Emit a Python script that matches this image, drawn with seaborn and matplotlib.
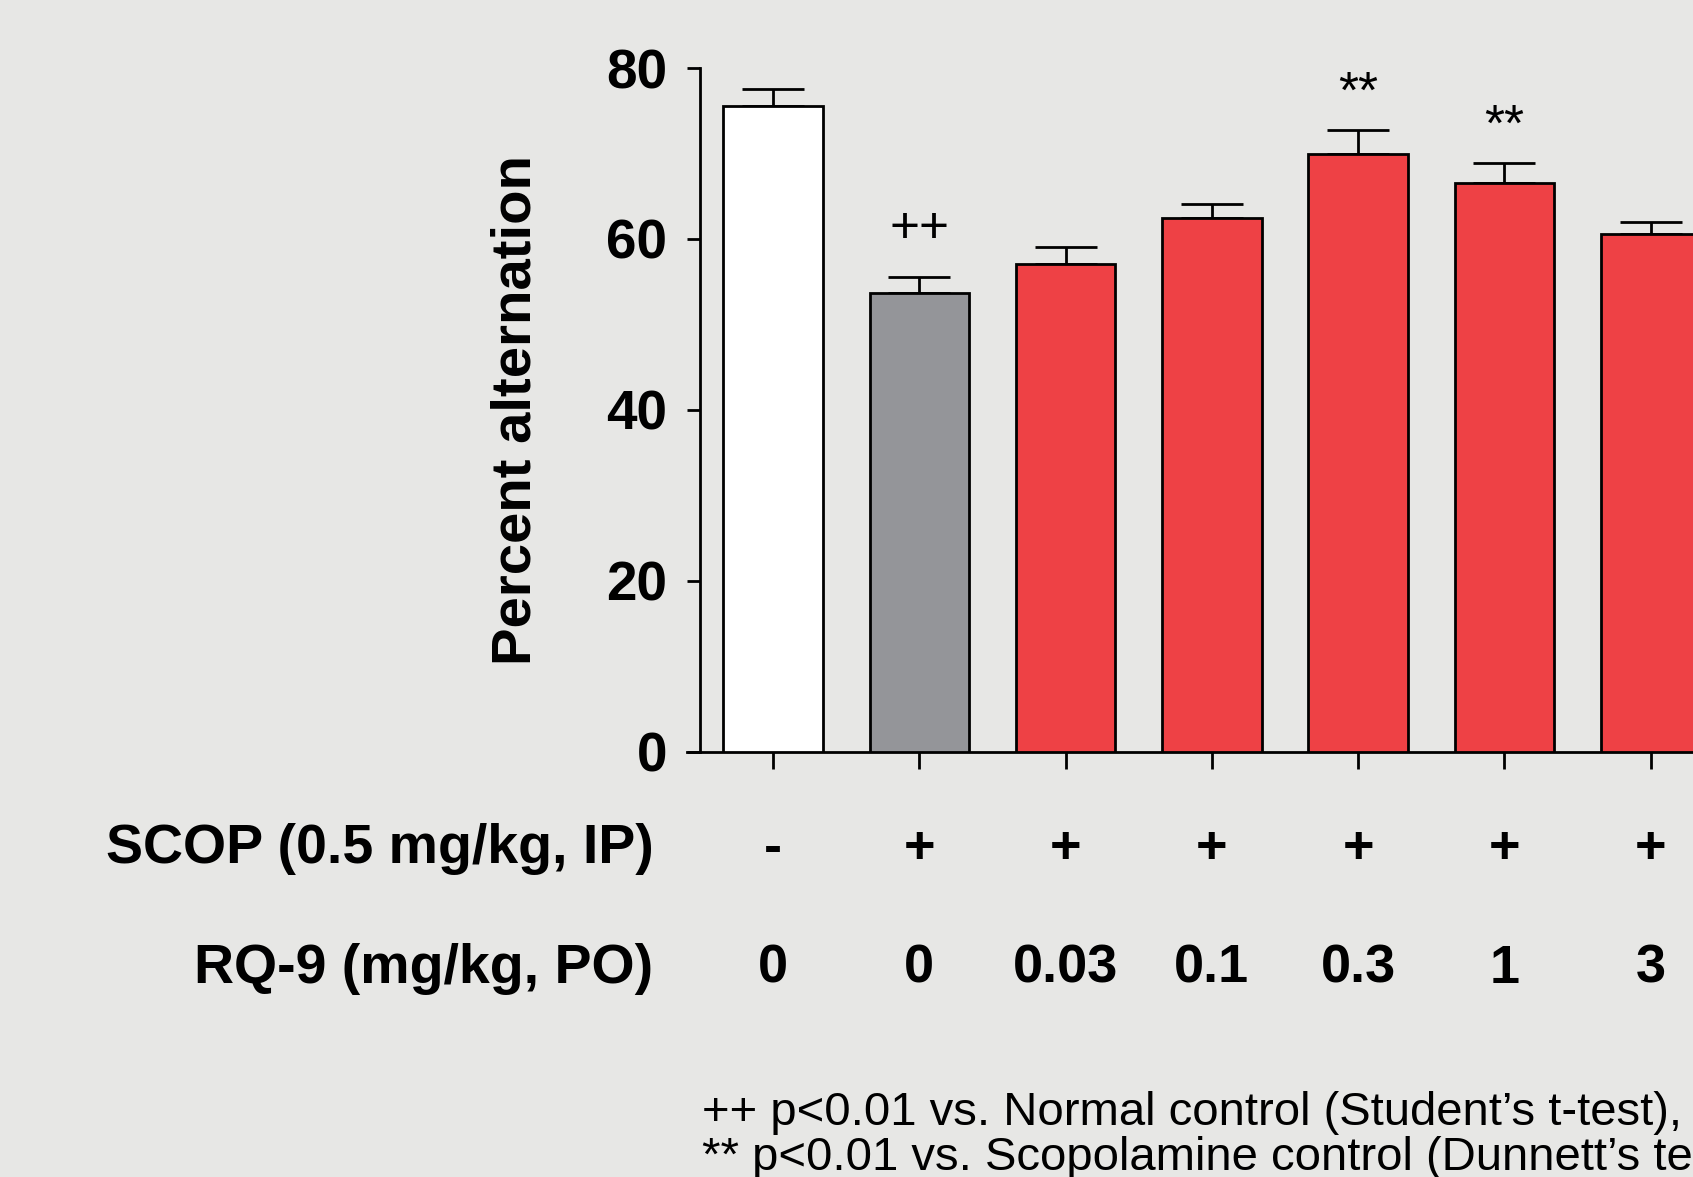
import pandas as pd
import matplotlib.pyplot as plt
import matplotlib.transforms as mtransforms
import seaborn as sns

# values
groups = ["Normal", "SCOP", "RQ-9 0.03", "RQ-9 0.1", "RQ-9 0.3", "RQ-9 1", "RQ-9 3"]
means = [75.6, 53.7, 57.1, 62.4, 69.9, 66.6, 60.6]
sems = [1.9, 1.8, 1.9, 1.7, 2.9, 2.3, 1.4]
scop_row = ["-", "+", "+", "+", "+", "+", "+"]
dose_row = ["0", "0", "0.03", "0.1", "0.3", "1", "3"]
marks = ["", "++", "", "", "**", "**", ""]
bar_colors = ["#FFFFFF", "#949599", "#EE4145", "#EE4145", "#EE4145", "#EE4145", "#EE4145"]
y_ticks = [0, 20, 40, 60, 80]
footnotes = ["++ p<0.01 vs. Normal control (Student\u2019s t-test),",
             "** p<0.01 vs. Scopolamine control (Dunnett\u2019s test)"]

bg = "#E7E7E5"
sns.set_style("white")
plt.rcParams['font.family'] = ['Liberation Sans', 'DejaVu Sans']
plt.rcParams.update({"text.color": "black", "axes.labelcolor": "black",
                     "xtick.color": "black", "ytick.color": "black"})

df = pd.DataFrame({"group": groups, "mean": means, "sem": sems})

fig = plt.figure(figsize=(16.93, 11.77), dpi=100, facecolor=bg)
ax = fig.add_axes([0.4135, 0.3615, 0.691, 0.5807])
ax.set_facecolor(bg)

sns.barplot(data=df, x="group", y="mean", hue="group", order=groups,
            palette=dict(zip(groups, bar_colors)), legend=False, saturation=1,
            width=0.68, edgecolor="black", linewidth=2, errorbar=None,
            ax=ax, zorder=3)

ax.errorbar(range(len(groups)), means, yerr=[[0] * len(sems), sems], fmt="none",
            ecolor="black", elinewidth=2, capsize=22, capthick=2, zorder=2)

ax.set_xlim(-0.5, 7.5)
ax.set_ylim(0, 80)
ax.set_yticks(y_ticks)
ax.set_yticklabels([str(t) for t in y_ticks], fontsize=39.5, fontweight="bold")
ax.set_xticks(range(len(groups)))
ax.set_xticklabels([])
ax.set_xlabel("")
ax.set_ylabel("Percent alternation", fontsize=40.5, fontweight="bold", labelpad=46)
ax.tick_params(axis="y", direction="out", length=9.5, width=2, pad=14, left=True)
ax.tick_params(axis="x", direction="out", length=12, width=2, bottom=True)
for s in ["top", "right"]:
    ax.spines[s].set_visible(False)
for s in ["left", "bottom"]:
    ax.spines[s].set_linewidth(2)
    ax.spines[s].set_color("black")
ax.spines["bottom"].set_bounds(-0.5 - 0.088, 7.5)

# significance marks above the error caps
for i, m in enumerate(marks):
    if m:
        off = 2.6 if m == "**" else 4.0
        ax.text(i, means[i] + sems[i] + off, m, ha="center", va="baseline", fontsize=37)

trans = mtransforms.blended_transform_factory(ax.transData, fig.transFigure)
for i in range(len(groups)):
    ax.text(i, 0.279, scop_row[i], transform=trans, ha="center", va="center",
            fontsize=39, fontweight="bold")
    ax.text(i, 0.177, dose_row[i], transform=trans, ha="center", va="center",
            fontsize=39, fontweight="bold")

fig.text(0.386, 0.279, "SCOP (0.5 mg/kg, IP)", ha="right", va="center",
         fontsize=40, fontweight="bold")
fig.text(0.386, 0.177, "RQ-9 (mg/kg, PO)", ha="right", va="center",
         fontsize=40, fontweight="bold")
fig.text(0.4146, 0.054, footnotes[0], ha="left", va="center", fontsize=34)
fig.text(0.4146, 0.016, footnotes[1], ha="left", va="center", fontsize=34)

fig.savefig("out.png", dpi=100, facecolor=bg)
